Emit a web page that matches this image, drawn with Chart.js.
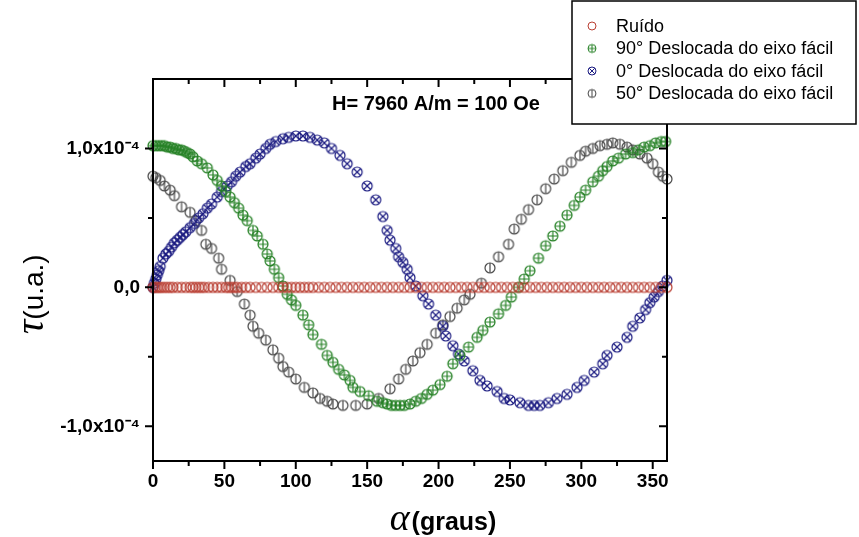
<!DOCTYPE html>
<html>
<head>
<meta charset="utf-8">
<script src="https://cdn.jsdelivr.net/npm/chart.js@4.4.1/dist/chart.umd.min.js"></script>
<style>
  html, body { margin: 0; background: #fff; }
  canvas { display: block; }
</style>
</head>
<body>
<canvas id="chart" width="859" height="537"></canvas>
<script>
// angulo alfa em graus, torque em unidades de 1e-4
const ruidoAng = [0, 1.5, 3, 4.5, 6, 8, 10, 12, 14, 17, 20, 23, 26, 28, 30, 32, 34, 36, 39, 42, 45, 48, 51, 53, 55, 57, 59, 62, 65, 68, 72, 76, 80, 84, 88, 91, 94, 97, 100, 103, 106, 109, 112, 116, 120, 124, 128, 132, 136, 140, 144, 148, 152, 156, 160, 164, 168, 172, 176, 180, 184, 188, 192, 196, 200, 204, 208, 212, 216, 220, 224, 228, 232, 236, 240, 244, 248, 252, 256, 260, 264, 268, 272, 276, 280, 284, 288, 292, 296, 300, 304, 308, 312, 316, 320, 324, 328, 332, 336, 340, 344, 348, 352, 356, 360];
const ruidoTau = [0, 0, 0, 0, 0, 0, 0, 0, 0, 0, 0, 0, 0, 0, 0, 0, 0, 0, 0, 0, 0, 0, 0, 0, 0, 0, 0, 0, 0, 0, 0, 0, 0, 0, 0, 0, 0, 0, 0, 0, 0, 0, 0, 0, 0, 0, 0, 0, 0, 0, 0, 0, 0, 0, 0, 0, 0, 0, 0, 0, 0, 0, 0, 0, 0, 0, 0, 0, 0, 0, 0, 0, 0, 0, 0, 0, 0, 0, 0, 0, 0, 0, 0, 0, 0, 0, 0, 0, 0, 0, 0, 0, 0, 0, 0, 0, 0, 0, 0, 0, 0, 0, 0, 0, 0];

const ang90 = [0, 2, 4, 6, 8, 10, 12, 14, 16, 18, 20, 22, 24, 26, 28, 31, 34, 38, 42, 45, 48, 51, 54, 57, 60, 63, 66, 70, 73, 77, 80, 82, 85, 88, 91, 94, 97, 100, 105, 109, 112, 118, 122, 126, 130, 134, 138, 140, 145, 151, 157, 161, 164, 167, 170, 173, 176, 180, 184, 188, 192, 196, 201, 206, 210, 215, 221, 227, 231, 236, 242, 247, 251, 256, 260, 264, 270, 275, 280, 285, 290, 295, 299, 303, 308, 312, 315, 318, 322, 326, 331, 336, 340, 344, 348, 352, 356, 359];
const tau90 = [1.02, 1.02, 1.02, 1.02, 1.02, 1.01, 1.01, 1.00, 1.00, 0.99, 0.99, 0.98, 0.97, 0.96, 0.94, 0.91, 0.89, 0.86, 0.81, 0.77, 0.73, 0.69, 0.65, 0.61, 0.57, 0.52, 0.48, 0.41, 0.37, 0.31, 0.24, 0.19, 0.13, 0.07, 0.01, -0.05, -0.09, -0.13, -0.20, -0.27, -0.34, -0.41, -0.49, -0.54, -0.59, -0.63, -0.67, -0.72, -0.75, -0.78, -0.82, -0.83, -0.84, -0.85, -0.85, -0.85, -0.85, -0.84, -0.82, -0.80, -0.77, -0.74, -0.70, -0.64, -0.55, -0.49, -0.43, -0.36, -0.31, -0.25, -0.19, -0.13, -0.07, 0.00, 0.06, 0.12, 0.21, 0.30, 0.37, 0.44, 0.52, 0.59, 0.65, 0.70, 0.76, 0.80, 0.84, 0.87, 0.91, 0.93, 0.96, 0.97, 0.99, 1.01, 1.02, 1.04, 1.05, 1.05];

const ang0 = [0, 1, 2, 3, 4, 5, 7, 9, 11, 13, 15, 17, 19, 21, 23, 26, 29, 32, 35, 38, 41, 45, 48, 52, 55, 58, 61, 65, 68, 72, 75, 79, 82, 86, 91, 95, 100, 105, 110, 115, 120, 125, 131, 136, 143, 150, 156, 161, 164, 166, 170, 172, 175, 178, 180, 184, 189, 193, 198, 203, 205, 210, 214, 218, 224, 229, 234, 241, 246, 250, 257, 263, 267, 271, 277, 283, 290, 297, 302, 309, 315, 318, 325, 332, 336, 341, 345, 348, 351, 354, 357, 360];
const tau0 = [0.00, 0.03, 0.06, 0.09, 0.12, 0.15, 0.21, 0.24, 0.26, 0.29, 0.32, 0.34, 0.36, 0.38, 0.40, 0.43, 0.46, 0.50, 0.53, 0.57, 0.60, 0.65, 0.69, 0.73, 0.76, 0.80, 0.83, 0.87, 0.89, 0.93, 0.96, 1.00, 1.03, 1.05, 1.07, 1.08, 1.09, 1.09, 1.08, 1.06, 1.04, 1.00, 0.95, 0.89, 0.83, 0.73, 0.63, 0.51, 0.41, 0.34, 0.28, 0.22, 0.18, 0.13, 0.07, 0.01, -0.06, -0.12, -0.20, -0.28, -0.35, -0.42, -0.48, -0.53, -0.60, -0.67, -0.71, -0.75, -0.80, -0.81, -0.83, -0.85, -0.85, -0.85, -0.83, -0.80, -0.77, -0.72, -0.67, -0.61, -0.55, -0.49, -0.43, -0.36, -0.28, -0.22, -0.16, -0.11, -0.07, -0.03, 0.01, 0.05];

const ang50 = [0, 2, 5, 8, 12, 15, 20, 26, 30, 34, 37, 41, 46, 48, 54, 59, 64, 68, 70, 74, 79, 84, 88, 91, 95, 100, 106, 112, 117, 122, 126, 133, 142, 150, 158, 166, 172, 177, 182, 187, 192, 198, 203, 208, 213, 218, 222, 230, 236, 242, 249, 253, 258, 263, 269, 275, 281, 287, 293, 299, 303, 308, 313, 318, 322, 327, 332, 336, 341, 346, 350, 354, 357, 360];
const tau50 = [0.80, 0.79, 0.77, 0.73, 0.70, 0.66, 0.58, 0.54, 0.48, 0.41, 0.31, 0.28, 0.21, 0.13, 0.05, -0.03, -0.12, -0.20, -0.28, -0.33, -0.38, -0.45, -0.51, -0.57, -0.61, -0.66, -0.72, -0.76, -0.80, -0.82, -0.84, -0.85, -0.85, -0.84, -0.80, -0.73, -0.66, -0.59, -0.53, -0.47, -0.41, -0.33, -0.27, -0.21, -0.15, -0.09, -0.05, 0.03, 0.14, 0.22, 0.31, 0.42, 0.49, 0.56, 0.63, 0.71, 0.78, 0.84, 0.90, 0.95, 0.98, 1.00, 1.02, 1.03, 1.04, 1.03, 1.01, 0.99, 0.96, 0.93, 0.89, 0.83, 0.80, 0.78];

const xTicks = [0, 50, 100, 150, 200, 250, 300, 350];
const seriesNames = ['Ruído', '90° Deslocada do eixo fácil', '0° Deslocada do eixo fácil', '50° Deslocada do eixo fácil'];
const seriesColors = ['rgb(185,62,50)', 'rgb(36,128,36)', 'rgb(28,28,130)', 'rgb(70,70,70)'];
const seriesKinds = ['none', 'plus', 'x', 'bar'];
const angs = [ruidoAng, ang90, ang0, ang50];
const taus = [ruidoTau, tau90, tau0, tau50];

function marker(color, kind, r, lw) {
  const s = Math.ceil(2 * r + 4);
  const c = document.createElement('canvas');
  c.width = s; c.height = s;
  const g = c.getContext('2d');
  const m = s / 2;
  g.strokeStyle = color;
  g.lineWidth = lw;
  g.beginPath();
  g.arc(m, m, r, 0, Math.PI * 2);
  g.stroke();
  g.beginPath();
  if (kind === 'plus') {
    g.moveTo(m - r, m); g.lineTo(m + r, m);
    g.moveTo(m, m - r); g.lineTo(m, m + r);
  } else if (kind === 'x') {
    const d = r * 0.707;
    g.moveTo(m - d, m - d); g.lineTo(m + d, m + d);
    g.moveTo(m + d, m - d); g.lineTo(m - d, m + d);
  } else if (kind === 'bar') {
    g.moveTo(m, m - r); g.lineTo(m, m + r);
  }
  g.stroke();
  return c;
}

const datasets = angs.map((a, i) => ({
  label: seriesNames[i],
  data: a.map((x, j) => ({ x: x, y: taus[i][j] * 1e-4 })),
  pointStyle: marker(seriesColors[i], seriesKinds[i], 5, 1.2),
  pointRadius: 5,
  showLine: false,
  clip: false
}));

const legendIcons = seriesColors.map((c, i) => marker(c, seriesKinds[i], 4, 1));

const decor = {
  id: 'decor',
  afterDraw(chart) {
    const ctx = chart.ctx;
    const a = chart.chartArea;
    const xs = chart.scales.x, ys = chart.scales.y;
    ctx.save();
    ctx.strokeStyle = '#000';
    ctx.lineWidth = 2;
    ctx.strokeRect(a.left, a.top, a.right - a.left, a.bottom - a.top);
    ctx.beginPath();
    for (let v = 0; v < 360; v += 25) {
      const px = xs.getPixelForValue(v);
      const len = v % 50 === 0 ? 8 : 5;
      ctx.moveTo(px, a.bottom); ctx.lineTo(px, a.bottom + len);
      ctx.moveTo(px, a.top); ctx.lineTo(px, a.top + len);
    }
    for (let k = -2; k <= 2; k++) {
      const py = ys.getPixelForValue(k * 0.5e-4);
      const len = k % 2 === 0 ? 8 : 5;
      ctx.moveTo(a.left, py); ctx.lineTo(a.left - len, py);
      ctx.moveTo(a.right, py); ctx.lineTo(a.right - len, py);
    }
    ctx.stroke();

    // anotacao
    ctx.fillStyle = '#000';
    ctx.textBaseline = 'alphabetic';
    ctx.textAlign = 'left';
    ctx.font = 'bold 20px "Liberation Sans", Arial, sans-serif';
    ctx.fillText('H= 7960 A/m = 100 Oe', 332, 110);

    // titulo eixo x
    ctx.font = 'italic 38px "Liberation Serif", "DejaVu Serif", serif';
    const wA = ctx.measureText('α').width;
    ctx.font = 'bold 25px "Liberation Sans", Arial, sans-serif';
    const wG = ctx.measureText('(graus)').width;
    const x0 = 442 - (wA + wG) / 2;
    ctx.font = 'italic 38px "Liberation Serif", "DejaVu Serif", serif';
    ctx.fillText('α', x0, 530);
    ctx.font = 'bold 25px "Liberation Sans", Arial, sans-serif';
    ctx.fillText('(graus)', x0 + wA + 2, 530);

    // titulo eixo y
    ctx.save();
    ctx.translate(43, 334);
    ctx.rotate(-Math.PI / 2);
    ctx.font = 'italic 40px "Liberation Serif", "DejaVu Serif", serif';
    ctx.fillText('τ', 0, 0);
    const wT = ctx.measureText('τ').width;
    ctx.font = '28px "Liberation Sans", Arial, sans-serif';
    ctx.fillText('(u.a.)', wT, 0);
    ctx.restore();

    // legenda
    ctx.fillStyle = '#fff';
    ctx.fillRect(572, 1, 284, 123);
    ctx.lineWidth = 1.5;
    ctx.strokeStyle = '#000';
    ctx.strokeRect(572, 1, 284, 123);
    ctx.fillStyle = '#000';
    ctx.font = '18px "Liberation Sans", Arial, sans-serif';
    ctx.textBaseline = 'middle';
    seriesNames.forEach((n, i) => {
      const y = 26 + i * 22.5;
      const ic = legendIcons[i];
      ctx.drawImage(ic, 592 - ic.width / 2, y - ic.height / 2);
      ctx.fillText(n, 616, y + 1);
    });
    ctx.restore();
  }
};

new Chart(document.getElementById('chart'), {
  type: 'scatter',
  data: { datasets: datasets },
  options: {
    responsive: false,
    animation: false,
    devicePixelRatio: 1,
    layout: { padding: { top: 79, right: 192, left: 0, bottom: 0 } },
    plugins: { legend: { display: false }, tooltip: { enabled: false } },
    scales: {
      x: {
        type: 'linear',
        min: 0,
        max: 360,
        afterBuildTicks: s => { s.ticks = xTicks.map(v => ({ value: v })); },
        afterFit: s => { s.height = 76; },
        grid: { display: false, drawTicks: false },
        border: { display: false },
        ticks: {
          padding: 9,
          color: '#000',
          maxRotation: 0,
          font: { family: '"Liberation Sans", Arial, sans-serif', size: 19, weight: 'bold' }
        }
      },
      y: {
        min: -1.25e-4,
        max: 1.5e-4,
        afterBuildTicks: s => { s.ticks = [-1e-4, 0, 1e-4].map(v => ({ value: v })); },
        afterFit: s => { s.width = 153; },
        grid: { display: false, drawTicks: false },
        border: { display: false },
        ticks: {
          padding: 13,
          color: '#000',
          font: { family: '"Liberation Sans", Arial, sans-serif', size: 19, weight: 'bold' },
          callback: v => {
            const k = Math.round(v * 1e4);
            if (k === 0) return '0,0';
            return (k < 0 ? '-' : '') + '1,0x10⁻⁴';
          }
        }
      }
    }
  },
  plugins: [decor]
});
</script>
</body>
</html>
